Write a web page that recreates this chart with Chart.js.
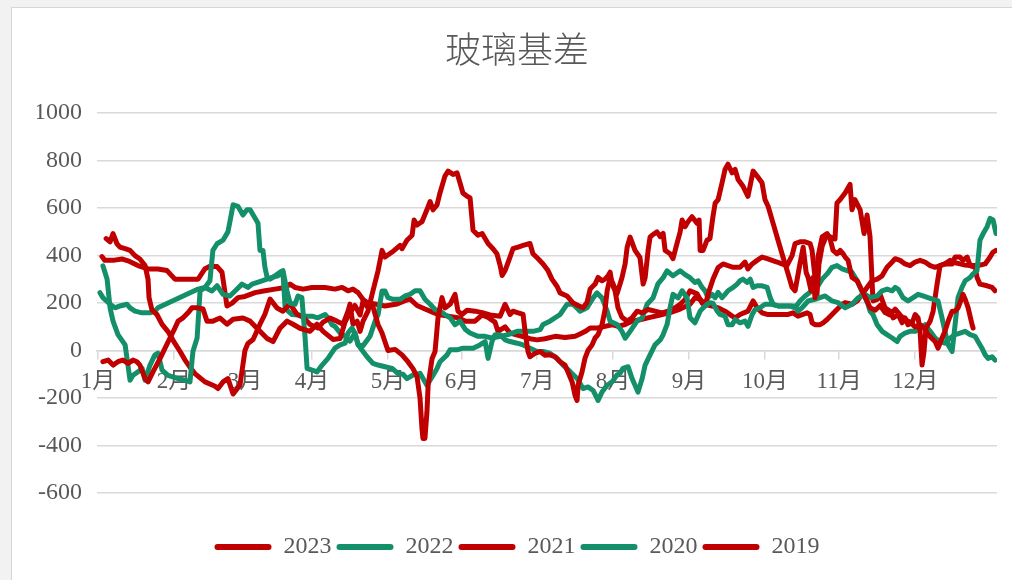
<!DOCTYPE html>
<html lang="zh">
<head>
<meta charset="UTF-8">
<title>玻璃基差</title>
<script src="https://cdn.jsdelivr.net/npm/chart.js"></script>
<style>
  html, body { margin: 0; padding: 0; background: #f2f2f2; }
  #wrap {
    position: absolute; left: 11px; top: 7px; width: 1000px; height: 572px;
    background: #fff; border-left: 1px solid #d6d6d6; border-top: 1px solid #d6d6d6;
  }
  #chart { display: block; }
</style>
</head>
<body>
<div id="wrap"><canvas id="chart" width="1000" height="572"></canvas></div>
<script>
// x = day of year (0 = 1月1日), y = 基差
const monthLabels = ['1月','2月','3月','4月','5月','6月','7月','8月','9月','10月','11月','12月'];
const monthTicks = [0.4, 31.2, 60.0, 87.2, 118.0, 148.0, 178.5, 209.3, 240.1, 270.9, 301.0, 331.8];

const s2023 = [[2.4,-47],[4.5,-40],[6.5,-61],[8.5,-47],[10.5,-40],[12.6,-54],[14.6,-40],[16.2,-47],[17.4,-61],[19.5,-118],[20.7,-132],[22.7,-90],[25.6,-33],[27.6,10],[29.6,53],[31.6,95],[32.9,124],[34.9,138],[36.9,159],[38.5,180],[40.6,180],[43.0,175],[44.6,124],[47.0,124],[49.9,137],[52.7,111],[55.2,132],[59.2,137],[62.1,124],[64.9,94],[69.0,51],[71.4,38],[74.2,94],[77.1,124],[79.5,111],[82.3,94],[86.4,81],[89.2,111],[91.7,81],[95.7,47],[98.6,51],[100.6,120],[102.6,160],[104.6,190],[106.7,150],[107.9,210],[109.9,180],[111.5,200],[114.0,109],[115.6,74],[118.0,0],[120.9,5],[123.7,-18],[126.1,-47],[128.2,-77],[129.8,-110],[131.0,-200],[131.8,-330],[132.2,-370],[133.0,-370],[133.8,-260],[134.3,-146],[135.9,-33],[137.1,-4],[138.3,138],[139.9,223],[141.1,180],[143.2,195],[145.2,237],[146.4,166],[148.0,152],[150.1,170],[153.3,166],[156.2,160],[159.4,150],[163.5,145],[165.5,195],[167.5,152],[168.7,166],[170.8,159],[172.8,152],[173.6,81],[174.8,-4],[175.6,-26],[177.7,-11],[179.7,-4],[181.7,-20],[183.7,-18],[185.8,-26],[187.8,-47],[189.8,-61],[191.0,-90],[192.7,-132],[193.9,-190],[194.7,-210],[195.1,-146],[196.7,-90],[197.9,-33],[199.1,0],[200.8,24],[202.0,53],[203.2,67],[204.8,109],[206.0,170],[206.9,252],[208.1,307],[209.3,281],[210.9,239],[212.9,307],[214.2,366],[215.0,435],[216.2,478],[218.2,422],[220.2,392],[221.5,280],[222.3,307],[223.5,422],[224.3,478],[225.1,486],[227.1,500],[228.4,480],[229.6,494],[230.4,422],[232.4,408],[233.6,387],[235.2,451],[236.5,500],[237.3,550],[238.5,522],[239.7,543],[241.3,564],[243.4,536],[244.2,550],[244.6,422],[245.8,422],[247.4,465],[248.6,472],[249.8,564],[250.7,621],[251.9,636],[253.5,707],[254.7,763],[255.9,785],[257.6,749],[258.8,763],[260.0,721],[262.0,692],[264.0,650],[266.1,756],[267.7,735],[269.7,707],[270.9,636],[272.2,607],[274.2,536],[276.2,465],[278.2,394],[280.3,323],[281.9,266],[283.1,252],[285.1,366],[286.4,435],[287.6,329],[288.4,308],[289.6,252],[290.4,308],[291.2,223],[292.4,394],[294.1,479],[296.1,493],[297.3,472],[298.5,422],[300.1,408],[301.4,422],[302.6,408],[303.4,394],[304.6,380],[306.2,308],[308.3,294],[310.3,252],[312.3,209],[313.5,180],[315.6,170],[317.6,190],[319.6,160],[321.6,150],[323.7,175],[325.7,150],[327.7,130],[329.7,120],[331.8,100],[333.8,109],[335.8,90],[337.0,67],[339.9,38],[341.1,10],[342.7,53],[343.9,81],[345.2,124],[346.8,166],[348.0,166],[349.2,180],[350.8,223],[351.2,237],[352.1,216],[353.3,180],[354.9,109],[355.3,95]];

const s2022 = [[2.4,357],[4.1,300],[5.3,180],[6.5,124],[8.5,67],[11.4,24],[13.4,-125],[14.6,-104],[16.6,-90],[18.3,-75],[19.5,-125],[21.5,-61],[23.5,-18],[24.7,-11],[26.4,-82],[28.8,-104],[32.9,-118],[35.7,-125],[37.7,-132],[38.9,-4],[40.6,53],[41.8,251],[43.8,266],[45.8,294],[47.0,422],[48.7,450],[51.1,465],[53.1,500],[53.9,543],[55.2,614],[57.2,607],[59.2,571],[60.8,593],[62.1,593],[65.3,536],[66.1,422],[67.3,422],[68.1,351],[69.0,308],[70.2,301],[72.2,315],[74.2,330],[75.4,337],[77.1,250],[78.3,200],[80.3,195],[81.5,230],[83.1,223],[84.4,53],[85.2,-75],[87.2,-82],[89.2,-90],[91.3,-61],[93.7,-33],[96.5,10],[98.6,24],[100.6,31],[101.8,74],[103.4,95],[104.6,74],[105.9,24],[107.9,-4],[109.5,-26],[111.9,-54],[114.0,-61],[116.8,-68],[119.7,-75],[122.1,-97],[124.1,-100],[125.7,-118],[128.2,-103],[131.0,-96],[133.8,-146],[135.9,-111],[137.9,-75],[139.1,-47],[142.0,-18],[143.2,3],[146.0,3],[148.4,10],[152.5,10],[155.3,24],[157.4,38],[158.6,-33],[160.2,38],[161.4,67],[163.5,67],[165.5,45],[167.5,38],[170.4,31],[172.8,24],[175.6,10],[178.5,-4],[180.9,-4],[183.7,-11],[186.6,-33],[189.0,-61],[191.9,-89],[194.7,-118],[197.1,-160],[199.1,-153],[201.2,-168],[203.2,-210],[204.8,-175],[206.9,-146],[208.9,-132],[210.9,-103],[212.1,-96],[213.3,-75],[215.4,-68],[217.0,-118],[218.2,-146],[219.4,-175],[221.1,-118],[222.3,-61],[224.3,-18],[226.3,24],[228.4,45],[229.6,67],[231.2,110],[232.4,180],[233.6,237],[235.7,222],[237.3,252],[239.3,222],[240.5,138],[242.5,117],[244.6,166],[245.8,180],[247.4,195],[248.6,202],[249.8,200],[251.5,166],[252.7,152],[254.7,145],[255.9,109],[257.6,109],[258.8,131],[260.8,117],[262.8,124],[264.0,102],[265.7,152],[266.9,173],[268.9,180],[270.9,195],[273.8,195],[276.2,188],[279.0,188],[281.1,188],[283.1,188],[284.3,166],[285.9,180],[288.4,209],[291.2,216],[293.2,223],[295.3,230],[298.1,209],[300.5,202],[303.4,180],[306.2,195],[308.7,223],[311.5,237],[313.5,223],[316.4,230],[318.4,252],[320.4,259],[322.5,252],[323.7,266],[324.9,259],[326.9,223],[328.9,209],[331.0,223],[333.0,237],[335.0,230],[337.0,223],[339.1,216],[341.1,209],[342.7,138],[343.9,81],[345.2,24],[346.8,-4],[348.0,109],[349.2,223],[350.8,266],[352.1,294],[354.1,308],[355.3,323],[356.9,337],[358.1,465],[359.4,493],[361.0,522],[362.2,557],[363.4,550],[364.6,493]];

const s2021 = [[3.7,472],[5.3,458],[6.5,493],[8.1,450],[9.3,436],[11.4,429],[13.4,422],[15.4,400],[17.4,386],[19.5,358],[20.7,300],[21.1,223],[22.3,170],[24.3,152],[26.4,110],[28.8,80],[31.6,30],[33.7,-4],[35.7,-40],[37.7,-70],[39.7,-97],[43.8,-132],[47.9,-150],[49.1,-160],[51.1,-132],[53.1,-118],[55.2,-183],[58.0,-145],[60.0,0],[61.2,30],[63.3,47],[66.1,111],[68.1,153],[70.2,217],[73.0,179],[75.4,166],[78.3,196],[81.1,153],[83.6,140],[86.4,110],[89.6,95],[91.7,120],[94.5,137],[97.3,124],[99.8,111],[101.8,166],[102.6,196],[103.8,111],[105.5,124],[106.7,81],[107.9,124],[109.9,166],[111.9,251],[114.0,337],[115.6,422],[116.8,394],[119.7,415],[122.9,443],[123.7,429],[125.7,465],[127.8,486],[128.6,550],[129.8,529],[131.8,543],[133.8,593],[135.1,628],[136.3,593],[137.9,614],[139.1,664],[141.1,735],[142.4,756],[144.4,742],[146.0,749],[147.2,707],[148.4,664],[150.1,650],[151.3,643],[152.5,507],[154.5,486],[156.2,493],[157.4,472],[158.6,451],[160.6,429],[162.2,408],[163.5,358],[164.3,316],[165.5,337],[167.5,394],[168.7,429],[170.8,436],[172.8,443],[175.6,451],[176.8,408],[178.9,387],[180.9,365],[182.9,337],[184.5,301],[186.6,270],[187.8,243],[190.6,230],[193.1,200],[195.1,190],[197.1,180],[198.7,202],[200.0,259],[202.0,280],[203.2,308],[204.8,294],[206.0,301],[207.3,315],[208.1,330],[208.9,280],[210.1,252],[211.3,180],[212.9,140],[215.0,124],[217.0,138],[219.0,166],[221.1,159],[223.5,173],[226.3,166],[229.2,159],[231.6,166],[234.4,180],[236.5,195],[238.5,215],[240.5,252],[243.4,239],[245.4,200],[246.6,190],[248.2,250],[249.8,300],[251.9,350],[253.9,365],[255.9,358],[258.0,351],[260.8,351],[262.8,373],[264.0,344],[265.7,365],[267.7,380],[269.7,394],[271.8,387],[273.8,380],[275.8,373],[277.8,365],[279.8,358],[281.9,400],[283.1,451],[285.1,458],[287.2,458],[289.2,451],[290.0,422],[291.2,308],[292.0,237],[292.8,365],[294.1,440],[295.7,480],[297.3,480],[299.3,470],[300.1,622],[301.4,636],[303.4,664],[305.4,700],[306.2,593],[307.4,636],[309.5,593],[311.1,493],[312.3,571],[313.5,480],[314.7,209],[316.4,216],[317.6,237],[319.6,180],[321.6,166],[322.9,138],[324.9,152],[326.5,117],[327.7,138],[328.9,109],[330.6,117],[331.8,152],[333.0,138],[333.8,81],[334.6,-61],[335.4,-4],[336.2,95],[337.9,124],[339.1,166],[340.7,280],[341.9,358],[343.9,365],[346.8,365],[348.0,394],[350.0,394],[351.2,380],[352.9,394],[354.1,358],[357.3,358],[360.2,365],[362.2,394],[363.4,415],[364.6,422]];

const s2020 = [[1.2,244],[2.4,223],[5.3,195],[7.3,180],[9.3,188],[12.2,195],[13.4,180],[15.4,166],[18.3,159],[21.5,159],[23.5,166],[24.7,180],[41.0,259],[43.8,266],[46.6,251],[48.7,273],[51.1,237],[53.9,230],[56.0,251],[58.8,280],[61.2,266],[62.9,280],[66.9,294],[71.0,308],[73.4,315],[75.4,330],[76.3,180],[77.5,166],[79.1,152],[81.5,150],[84.4,145],[87.2,145],[89.6,138],[92.5,152],[93.7,138],[95.3,109],[96.5,102],[98.6,74],[100.6,60],[102.6,40],[104.6,74],[105.9,24],[107.9,20],[110.7,60],[112.8,124],[114.0,152],[115.6,251],[116.8,251],[118.0,223],[120.1,216],[122.9,216],[124.9,230],[127.0,237],[129.0,252],[131.0,252],[133.0,216],[135.1,195],[137.1,173],[139.1,166],[141.1,152],[143.2,138],[145.2,109],[147.2,124],[149.3,90],[151.3,74],[154.5,60],[157.4,60],[160.2,53],[163.5,60],[166.7,67],[170.4,81],[173.6,81],[176.8,81],[179.7,88],[180.9,110],[183.7,124],[187.8,152],[190.6,195],[193.1,195],[195.9,166],[198.7,180],[201.2,222],[202.8,243],[204.8,222],[206.9,166],[208.1,124],[210.9,110],[212.9,81],[214.2,52],[216.2,81],[219.0,124],[221.1,138],[223.1,195],[225.5,222],[227.5,281],[229.6,307],[231.2,336],[233.6,315],[236.5,336],[238.5,320],[240.5,307],[242.5,287],[243.8,294],[245.4,266],[246.6,252],[247.8,223],[249.4,237],[250.7,223],[251.9,245],[253.5,223],[254.7,237],[255.9,252],[258.0,266],[259.6,280],[260.8,294],[262.0,301],[263.6,287],[264.9,301],[266.1,266],[267.7,273],[269.7,273],[271.8,266],[273.0,223],[274.2,195],[276.2,188],[279.0,188],[281.1,188],[283.1,180],[285.1,209],[287.2,230],[290.0,252],[292.0,266],[294.1,301],[296.1,323],[298.1,351],[300.1,358],[302.2,344],[304.2,337],[306.2,330],[308.3,294],[309.5,266],[310.7,237],[311.5,223],[312.7,195],[313.5,166],[314.7,152],[316.4,109],[318.4,81],[320.4,67],[322.5,53],[324.5,38],[325.7,60],[327.7,74],[329.7,81],[331.8,81],[333.8,95],[335.8,109],[337.9,81],[339.9,53],[341.9,38],[343.9,31],[346.0,53],[348.0,67],[350.0,74],[352.1,81],[354.1,67],[356.1,60],[357.3,38],[358.9,10],[360.2,-18],[361.4,-33],[363.0,-26],[364.2,-40]];

const s2019 = [[2.0,396],[3.2,380],[6.5,380],[10.1,386],[12.6,378],[16.6,358],[20.7,344],[24.7,344],[28.4,337],[31.6,301],[41.0,301],[43.8,345],[45.8,355],[48.7,354],[50.7,330],[52.7,188],[54.8,200],[57.2,223],[60.0,228],[64.1,244],[68.1,252],[72.2,259],[76.3,266],[78.3,280],[80.3,266],[83.6,259],[87.2,266],[92.5,266],[96.5,259],[99.4,266],[101.8,252],[103.8,259],[105.9,244],[107.9,215],[109.9,200],[112.8,196],[116.8,188],[121.7,196],[124.9,210],[127.0,217],[129.8,190],[133.0,175],[135.1,166],[138.3,152],[142.4,145],[146.4,138],[149.3,124],[153.3,124],[156.2,150],[158.6,140],[161.4,120],[162.6,81],[165.5,100],[167.5,74],[172.4,60],[175.6,50],[178.5,45],[181.7,50],[185.8,60],[189.8,55],[193.9,60],[195.9,70],[197.9,80],[200.0,95],[203.2,95],[206.0,102],[208.9,109],[211.3,102],[214.2,110],[217.0,124],[220.2,130],[224.3,140],[228.4,150],[232.4,160],[236.5,175],[240.5,195],[242.5,223],[244.6,216],[246.6,195],[249.4,188],[251.9,180],[254.7,166],[257.6,145],[258.8,138],[260.8,152],[264.0,166],[266.1,209],[267.7,180],[269.7,159],[271.8,152],[275.0,152],[277.8,152],[280.3,152],[282.3,159],[284.3,145],[288.0,159],[289.2,152],[290.0,117],[291.2,109],[293.2,109],[294.5,117],[296.1,131],[298.1,152],[300.1,173],[302.2,195],[303.4,202],[306.2,195],[308.3,209],[310.3,237],[312.3,266],[314.3,294],[316.4,301],[318.4,315],[320.4,351],[322.5,373],[323.7,387],[325.7,380],[327.7,365],[329.7,358],[331.8,373],[333.8,380],[335.8,373],[337.9,358],[339.9,351],[341.9,358],[343.9,365],[346.0,380],[348.0,370],[350.0,365],[352.1,360],[354.1,358],[356.1,351],[356.9,308],[358.1,280],[361.0,273],[363.0,266],[364.2,252]];

const years = ['2023', '2022', '2021', '2020', '2019'];
const seriesList = [s2023, s2022, s2021, s2020, s2019];
const RED = '#c00000';
const GREEN = '#138f6a';
const colors = [RED, GREEN, RED, GREEN, RED];

const labelFont = "'Liberation Serif', 'Noto Sans CJK SC', serif";
const textColor = '#595959';
const gridColor = '#d9d9d9';

const datasets = years.map((y, i) => ({
    label: y,
    data: seriesList[i].map(p => ({ x: p[0], y: p[1] })),
    borderColor: colors[i],
    backgroundColor: colors[i],
    borderWidth: 5,
    borderJoinStyle: 'round',
    borderCapStyle: 'round',
    pointRadius: 0,
    tension: 0,
}));

new Chart(document.getElementById('chart'), {
    type: 'line',
    data: { datasets },
    options: {
        responsive: false,
        animation: false,
        layout: { padding: { left: 25, right: 15, top: 0, bottom: 11 } },
        plugins: {
            title: {
                display: true,
                text: '玻璃基差',
                color: textColor,
                font: { family: "'Noto Sans CJK SC', sans-serif", size: 36, weight: '300' },
                padding: { top: 20, bottom: 42 },
            },
            legend: {
                position: 'bottom',
                labels: {
                    color: textColor,
                    font: { family: labelFont, size: 24 },
                    boxWidth: 57,
                    boxHeight: 6,
                    padding: 5,
                    useBorderRadius: true,
                    borderRadius: 3,
                    generateLabels: (chart) =>
                        Chart.defaults.plugins.legend.labels.generateLabels(chart)
                            .map(l => ({ ...l, lineWidth: 0 })),
                },
            },
            tooltip: { enabled: false },
        },
        scales: {
            x: {
                type: 'linear',
                position: { y: 0 },
                min: 0,
                max: 365,
                afterBuildTicks: (scale) => { scale.ticks = monthTicks.map(v => ({ value: v })); },
                ticks: {
                    autoSkip: false,
                    maxRotation: 0,
                    padding: 10,
                    color: textColor,
                    font: { family: labelFont, size: 23 },
                    callback: (v, i) => monthLabels[i],
                },
                grid: { drawOnChartArea: false, color: gridColor, lineWidth: 1.5, tickLength: 8 },
                border: { color: gridColor, width: 1.5 },
            },
            // empty bottom axis, only keeps room between the plot and the legend
            xSpace: {
                type: 'linear',
                position: 'bottom',
                min: 0,
                max: 365,
                afterFit: (scale) => { scale.height = 37; },
                ticks: { display: false },
                grid: { display: false },
                border: { display: false },
            },
            y: {
                min: -600,
                max: 1000,
                afterFit: (scale) => { scale.width = 60; },
                ticks: {
                    stepSize: 200,
                    padding: 15,
                    color: textColor,
                    font: { family: labelFont, size: 24 },
                    callback: (v) => String(v),
                },
                grid: { color: gridColor, lineWidth: 1.5, drawTicks: false },
                border: { display: false },
            },
        },
    },
});
</script>
</body>
</html>
